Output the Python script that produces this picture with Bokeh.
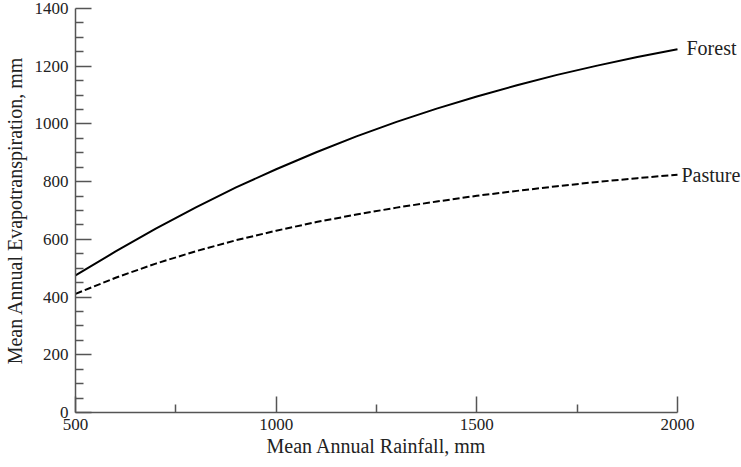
from bokeh.plotting import figure
from bokeh.models import Range1d, Label, FixedTicker, Title
from bokeh.embed import file_html
from bokeh.resources import INLINE

# Data
rainfall = [500, 600, 700, 800, 900, 1000, 1100, 1200, 1300, 1400,
            1500, 1600, 1700, 1800, 1900, 2000]
forest_et = [475, 558, 637, 711, 780, 843, 902, 957, 1007, 1053,
             1095, 1134, 1170, 1202, 1232, 1259]
pasture_et = [411, 467, 516, 559, 597, 630, 660, 686, 710, 731,
              751, 768, 784, 799, 812, 824]

x_major = [500, 1000, 1500, 2000]
x_minor = [750, 1250, 1750]
y_major = [0, 200, 400, 600, 800, 1000, 1200, 1400]
y_minor = [v for v in range(0, 1401, 50) if v not in y_major]

FONT = "Liberation Serif"
INK = "#000000"
AXIS = "#555555"
TXT = "#222222"

p = figure(width=741, height=467, output_backend="svg", toolbar_location=None,
           x_range=Range1d(500, 2159.5), y_range=Range1d(0, 1400),
           min_border_left=75, min_border_right=0, min_border_top=8,
           min_border_bottom=55)
p.outline_line_color = None
p.xgrid.visible = False
p.ygrid.visible = False
p.background_fill_color = "white"
p.border_fill_color = "white"

p.line(rainfall, forest_et, line_color=INK, line_width=2)
p.line(rainfall, pasture_et, line_color=INK, line_width=2, line_dash="7 3")

for ax, major, minor in ((p.xaxis[0], x_major, x_minor), (p.yaxis[0], y_major, y_minor)):
    ax.ticker = FixedTicker(ticks=major, minor_ticks=minor)
    ax.axis_line_color = AXIS
    ax.axis_line_width = 1.5
    ax.major_tick_line_color = AXIS
    ax.minor_tick_line_color = AXIS
    ax.major_tick_line_width = 1.5
    ax.minor_tick_line_width = 1.5
    ax.major_tick_in = 16
    ax.major_tick_out = 0
    ax.minor_tick_in = 8
    ax.minor_tick_out = 0
    ax.major_label_text_font = FONT
    ax.major_label_text_font_size = "17px"
    ax.major_label_text_color = TXT
    ax.axis_label_text_font = FONT
    ax.axis_label_text_font_size = "20px"
    ax.axis_label_text_font_style = "normal"
    ax.axis_label_text_color = TXT

p.xaxis.bounds = (500, 2000)
p.yaxis.axis_label = "Mean Annual Evapotranspiration, mm"
p.xaxis.major_label_standoff = 6
p.yaxis.major_label_standoff = 7
p.yaxis.axis_label_standoff = 6

# x-axis title, centred under the 500-2000 span of the axis
p.add_layout(Title(text="Mean Annual Rainfall, mm", align="left", offset=191,
                   text_font=FONT, text_font_size="20px", text_font_style="normal",
                   text_color=TXT, standoff=0), "below")

p.add_layout(Label(x=rainfall[-1], y=forest_et[-1], text="Forest", x_offset=9, y_offset=1,
                   text_baseline="middle", text_font=FONT, text_font_size="20px",
                   text_color=TXT))
p.add_layout(Label(x=rainfall[-1], y=pasture_et[-1], text="Pasture", x_offset=4, y_offset=0,
                   text_baseline="middle", text_font=FONT, text_font_size="20px",
                   text_color=TXT))

open("out.html", "w").write(file_html(p, INLINE))
